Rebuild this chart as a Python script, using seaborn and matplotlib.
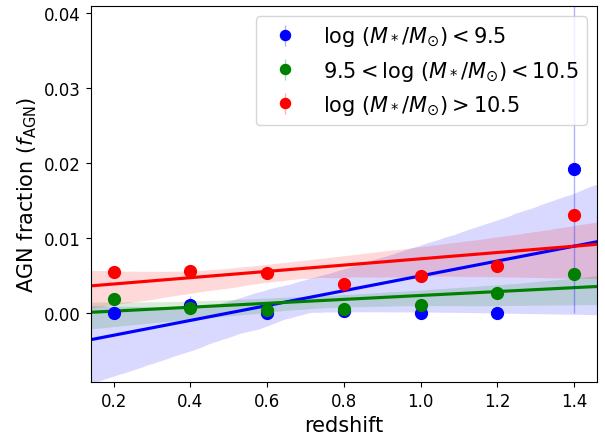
import numpy as np
import matplotlib
matplotlib.use("Agg")
import matplotlib.pyplot as plt
import seaborn as sns

# Data
redshift = [0.2, 0.4, 0.6, 0.8, 1.0, 1.2, 1.4]
frac_low = [0.0, 0.0011, 0.0, 0.0003, 0.0, 0.0, 0.0192]
frac_mid = [0.0019, 0.0007, 0.0004, 0.0005, 0.0011, 0.0027, 0.0052]
frac_high = [0.0055, 0.0056, 0.0053, 0.0039, 0.0049, 0.0063, 0.0130]
err_low_lo = [0.0, 0.0011, 0.0, 0.0003, 0.0, 0.0, 0.0192]
err_low_hi = [0.0, 0.0011, 0.0, 0.0003, 0.0, 0.0, 0.0350]
err_mid = [0.0004, 0.0003, 0.0002, 0.0002, 0.0003, 0.0005, 0.0007]
err_high = [0.0005, 0.0005, 0.0004, 0.0004, 0.0005, 0.0006, 0.0009]

labels = [r'$\mathrm{log}\ (M_*/M_{\odot}) < 9.5$',
          r'$9.5 < \mathrm{log}\ (M_*/M_{\odot}) < 10.5$',
          r'$\mathrm{log}\ (M_*/M_{\odot}) > 10.5$']
colors = ['blue', 'green', 'red']

fig, ax = plt.subplots(figsize=(6.05, 4.35), dpi=100)
fig.subplots_adjust(left=0.150, right=0.987, top=0.984, bottom=0.120)

series = [(frac_low, [err_low_lo, err_low_hi]),
          (frac_mid, err_mid),
          (frac_high, err_high)]

for (vals, err), c, lab in zip(series, colors, labels):
    ax.errorbar(redshift, vals, yerr=err, fmt='o', color=c, ms=8.5,
                ecolor=matplotlib.colors.to_rgba(c, 0.3), elinewidth=1,
                label=lab, zorder=3)

for (vals, err), c in zip(series, colors):
    sns.regplot(x=np.array(redshift), y=np.array(vals), scatter=False,
                truncate=False, color=c, ax=ax, seed=7, ci=85)

ax.set_ylim(-0.0092, 0.0409)
ax.set_xticks([0.2, 0.4, 0.6, 0.8, 1.0, 1.2, 1.4])
ax.set_yticks([0.0, 0.01, 0.02, 0.03, 0.04])
ax.tick_params(labelsize=12)
ax.set_xlabel('redshift', fontsize=15)
ax.set_ylabel(r'AGN fraction ($f_{\rm AGN}$)', fontsize=15)
ax.legend(loc='upper right', fontsize=15, markerscale=0.85)

fig.savefig('out.png', dpi=100)
